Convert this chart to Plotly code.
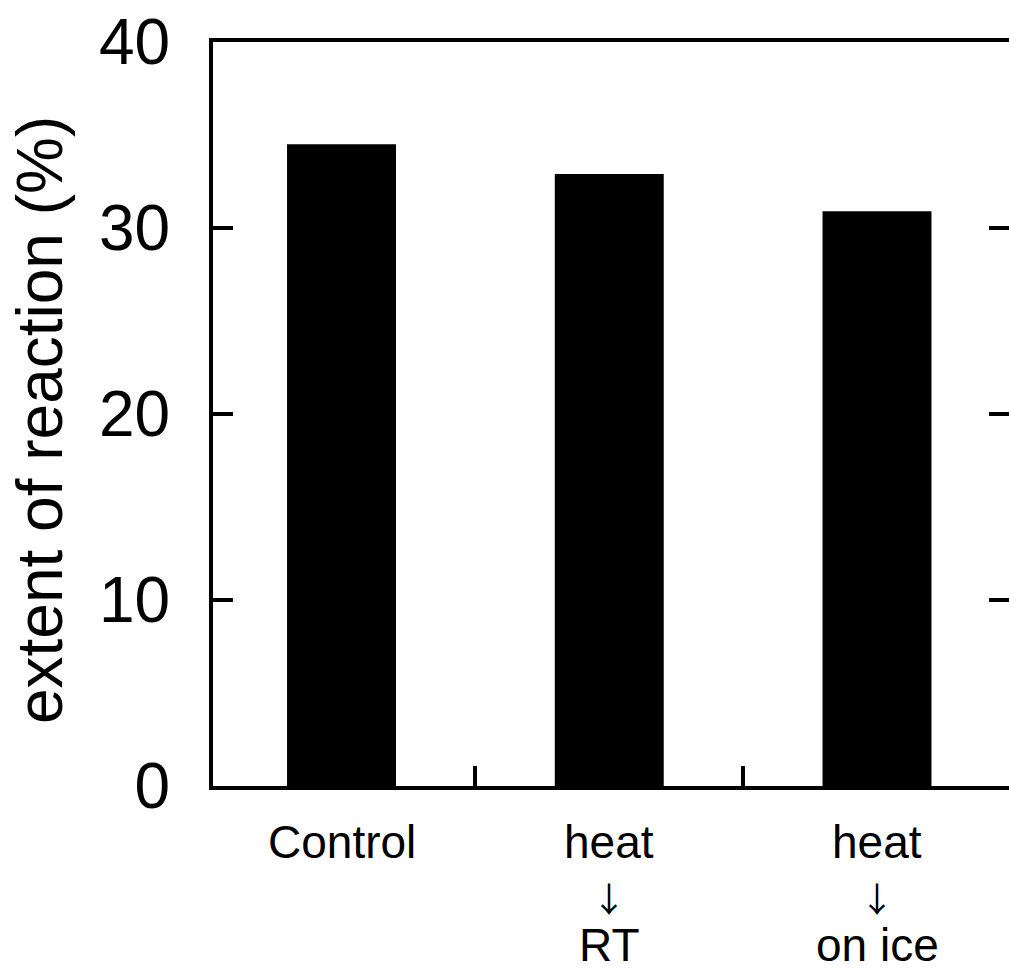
import plotly.graph_objects as go

categories = ["Control", "heat → RT", "heat → on ice"]
values = [34.5, 32.9, 30.9]
label_line1 = ["Control", "heat", "heat"]
label_line2 = ["", "↓", "↓"]
label_line3 = ["", "RT", "on ice"]
y_ticks = [0, 10, 20, 30, 40]
y_title = "extent of reaction (%)"

FONT = "Liberation Sans, Arial, Helvetica, sans-serif"
ARROW_FONT = "Noto Sans CJK JP, DejaVu Sans, sans-serif"

fig = go.Figure()
fig.add_trace(go.Bar(x=categories, y=values, width=0.407,
                     marker=dict(color="black", line=dict(width=0)),
                     showlegend=False, hoverinfo="skip"))
fig.add_trace(go.Scatter(x=[categories[0]], y=[0], yaxis="y2", mode="markers",
                         marker=dict(opacity=0), showlegend=False, hoverinfo="skip"))

ann = []
for i, c in enumerate(categories):
    rows = ((label_line1[i], -56, FONT, 46),
            (label_line2[i], -111, ARROW_FONT, 34),
            (label_line3[i], -159, FONT, 46))
    for txt, shift, fam, size in rows:
        if txt:
            ann.append(dict(x=c, xref="x", y=0, yref="paper", yanchor="middle",
                            xanchor="center", yshift=shift, text=txt, showarrow=False,
                            borderpad=0,
                            font=dict(family=fam, size=size, color="black")))
ann.append(dict(x=0, xref="paper", y=0.5, yref="paper", xshift=-173, yshift=-6,
                xanchor="center", yanchor="middle", textangle=-90, text=y_title,
                showarrow=False, font=dict(family=FONT, size=64, color="black")))

fig.update_layout(
    width=1009, height=972,
    margin=dict(l=213, r=0, t=41.5, b=186, autoexpand=False),
    paper_bgcolor="white", plot_bgcolor="white",
    font=dict(family=FONT, color="black"),
    xaxis=dict(type="category", categoryorder="array", categoryarray=categories,
               range=[-0.48, 2.493], tickson="boundaries", ticks="inside",
               ticklen=20, tickwidth=4, tickcolor="black", showticklabels=False,
               showline=True, linewidth=4, linecolor="black", mirror=True,
               showgrid=False, zeroline=False, fixedrange=True),
    yaxis=dict(range=[0, 40], tickvals=y_ticks, ticks="inside", ticklen=20,
               tickwidth=4, tickcolor="black", showline=True, linewidth=4,
               linecolor="black", showgrid=False, zeroline=False,
               tickfont=dict(family=FONT, size=64, color="black"),
               ticklabelstandoff=26, fixedrange=True),
    yaxis2=dict(range=[0, 40], overlaying="y", side="right", tickvals=y_ticks,
                ticks="inside", ticklen=20, tickwidth=4, tickcolor="black",
                showticklabels=False, showline=False, showgrid=False,
                zeroline=False, fixedrange=True),
    annotations=ann,
    bargap=0.5,
)

fig.write_html("out.html", config={"displayModeBar": False})
